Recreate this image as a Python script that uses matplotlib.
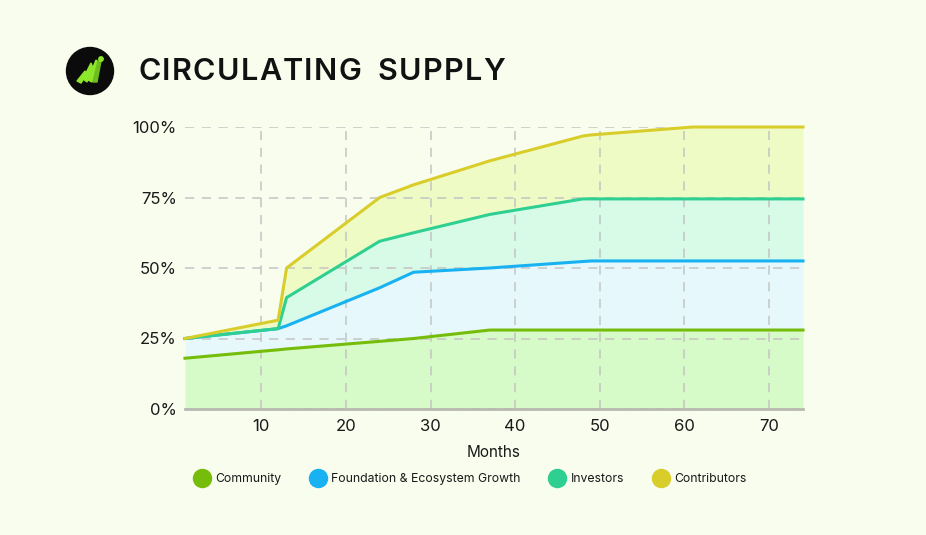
import matplotlib
matplotlib.use("Agg")
import matplotlib.pyplot as plt
from matplotlib.patches import Circle, Polygon
from matplotlib.lines import Line2D

plt.rcParams['font.family'] = ['Inter', 'DejaVu Sans']

# ---- data (cumulative % of supply) ----
months = [1, 12, 13, 24, 28, 37, 48, 49, 61, 74]
community = [18, 21, 21.3, 24, 25, 28, 28, 28, 28, 28]
foundation = [25, 28.5, 29.5, 43, 48.5, 50, 52.3, 52.5, 52.5, 52.5]
investors = [25, 28.5, 39.5, 59.5, 62.5, 69, 74.5, 74.5, 74.5, 74.5]
contributors = [25, 31.5, 50, 75, 79.5, 88, 96.8, 97.2, 100, 100]

series_names = ["Community", "Foundation & Ecosystem Growth", "Investors", "Contributors"]
line_colors = ["#76bc0a", "#18b2f2", "#2fcf92", "#d9cd2b"]
fill_colors = ["#d6fbc8", "#e6f8fb", "#d7fbe7", "#effbc4"]

x_ticks = [10, 20, 30, 40, 50, 60, 70]
y_ticks = [0, 25, 50, 75, 100]
y_tick_labels = ["0%", "25%", "50%", "75%", "100%"]
title = "CIRCULATING SUPPLY"

bg = "#f8fdee"
W, H = 926, 535
fig = plt.figure(figsize=(W / 100, H / 100), dpi=100, facecolor=bg)

ax = fig.add_axes([185 / W, 1 - 409 / H, (803 - 185) / W, (409 - 127) / H])
ax.set_facecolor(bg)

layers = [community, foundation, investors, contributors]
prev = [0] * len(months)
for vals, lc, fc in zip(layers, line_colors, fill_colors):
    ax.fill_between(months, prev, vals, color=fc, linewidth=0, zorder=1)
    prev = vals
for vals, lc in zip(layers, line_colors):
    ax.plot(months, vals, color=lc, linewidth=2.2, zorder=4, clip_on=False,
            solid_joinstyle='round')

ax.set_xlim(1, 74)
ax.set_ylim(0, 100)
ax.set_xticks(x_ticks)
ax.set_yticks(y_ticks)
ax.set_yticklabels(y_tick_labels)
ax.grid(True, linestyle=(0, (6, 5)), color="#c4c4c4", linewidth=1.1, zorder=3)
ax.set_axisbelow(False)
for s in ["top", "right", "left"]:
    ax.spines[s].set_visible(False)
ax.spines["bottom"].set_color("#b9b9b2")
ax.spines["bottom"].set_linewidth(2)
ax.spines["bottom"].set_zorder(5)
ax.tick_params(axis='both', length=0, labelsize=12, colors="#1a1a1a")
ax.tick_params(axis='x', pad=7)
ax.tick_params(axis='y', pad=6)
ax.set_xlabel("Months", fontsize=11, color="#1a1a1a", labelpad=8)

# legend
handles = [Line2D([0], [0], marker='o', linestyle='none', markersize=13,
                  markerfacecolor=c, markeredgecolor=c) for c in line_colors]
fig.legend(handles, series_names, loc='center', bbox_to_anchor=(468 / W, 1 - 479 / H),
           ncol=4, frameon=False, fontsize=8.8, handletextpad=0.1, columnspacing=2.0,
           labelcolor="#1a1a1a")

# title with letter spacing
renderer = fig.canvas.get_renderer()
x0, x1 = 138, 505
chars = []
total = 0
for ch in title:
    t = fig.text(0, 0, ch if ch != " " else "I", fontsize=22, fontweight='semibold')
    w = t.get_window_extent(renderer).width
    t.remove()
    if ch == " ":
        w *= 1.6
    chars.append((ch, w))
    total += w
spacing = (x1 - x0 - total) / (len(title) - 1)
xpos = x0
for ch, w in chars:
    if ch != " ":
        fig.text(xpos / W, 1 - 72 / H, ch, fontsize=22, fontweight='semibold',
                 color="#111111", va='center', ha='left')
    xpos += w + spacing

# logo
lax = fig.add_axes([60 / W, 1 - 101 / H, 60 / W, 60 / H])
lax.set_xlim(0, 60)
lax.set_ylim(0, 60)
lax.set_aspect('equal')
lax.axis('off')
lax.add_patch(Circle((30, 30), 23.5, color="#0b0b0b"))
g = "#8ee62a"
lax.add_patch(Polygon([[17, 20], [25, 30], [27, 27], [21, 18]], closed=True, color=g))
lax.add_patch(Polygon([[23, 22], [31, 38], [33, 33], [27, 19]], closed=True, color=g))
lax.add_patch(Polygon([[28, 21], [36, 41], [39, 38], [32, 19]], closed=True, color=g))
lax.add_patch(Polygon([[33, 19], [38, 40], [41, 40], [37, 19]], closed=True, color="#6dbd1e"))
lax.add_patch(Circle((41, 42), 2.2, color=g))

fig.savefig("out.png", dpi=100, facecolor=bg)
